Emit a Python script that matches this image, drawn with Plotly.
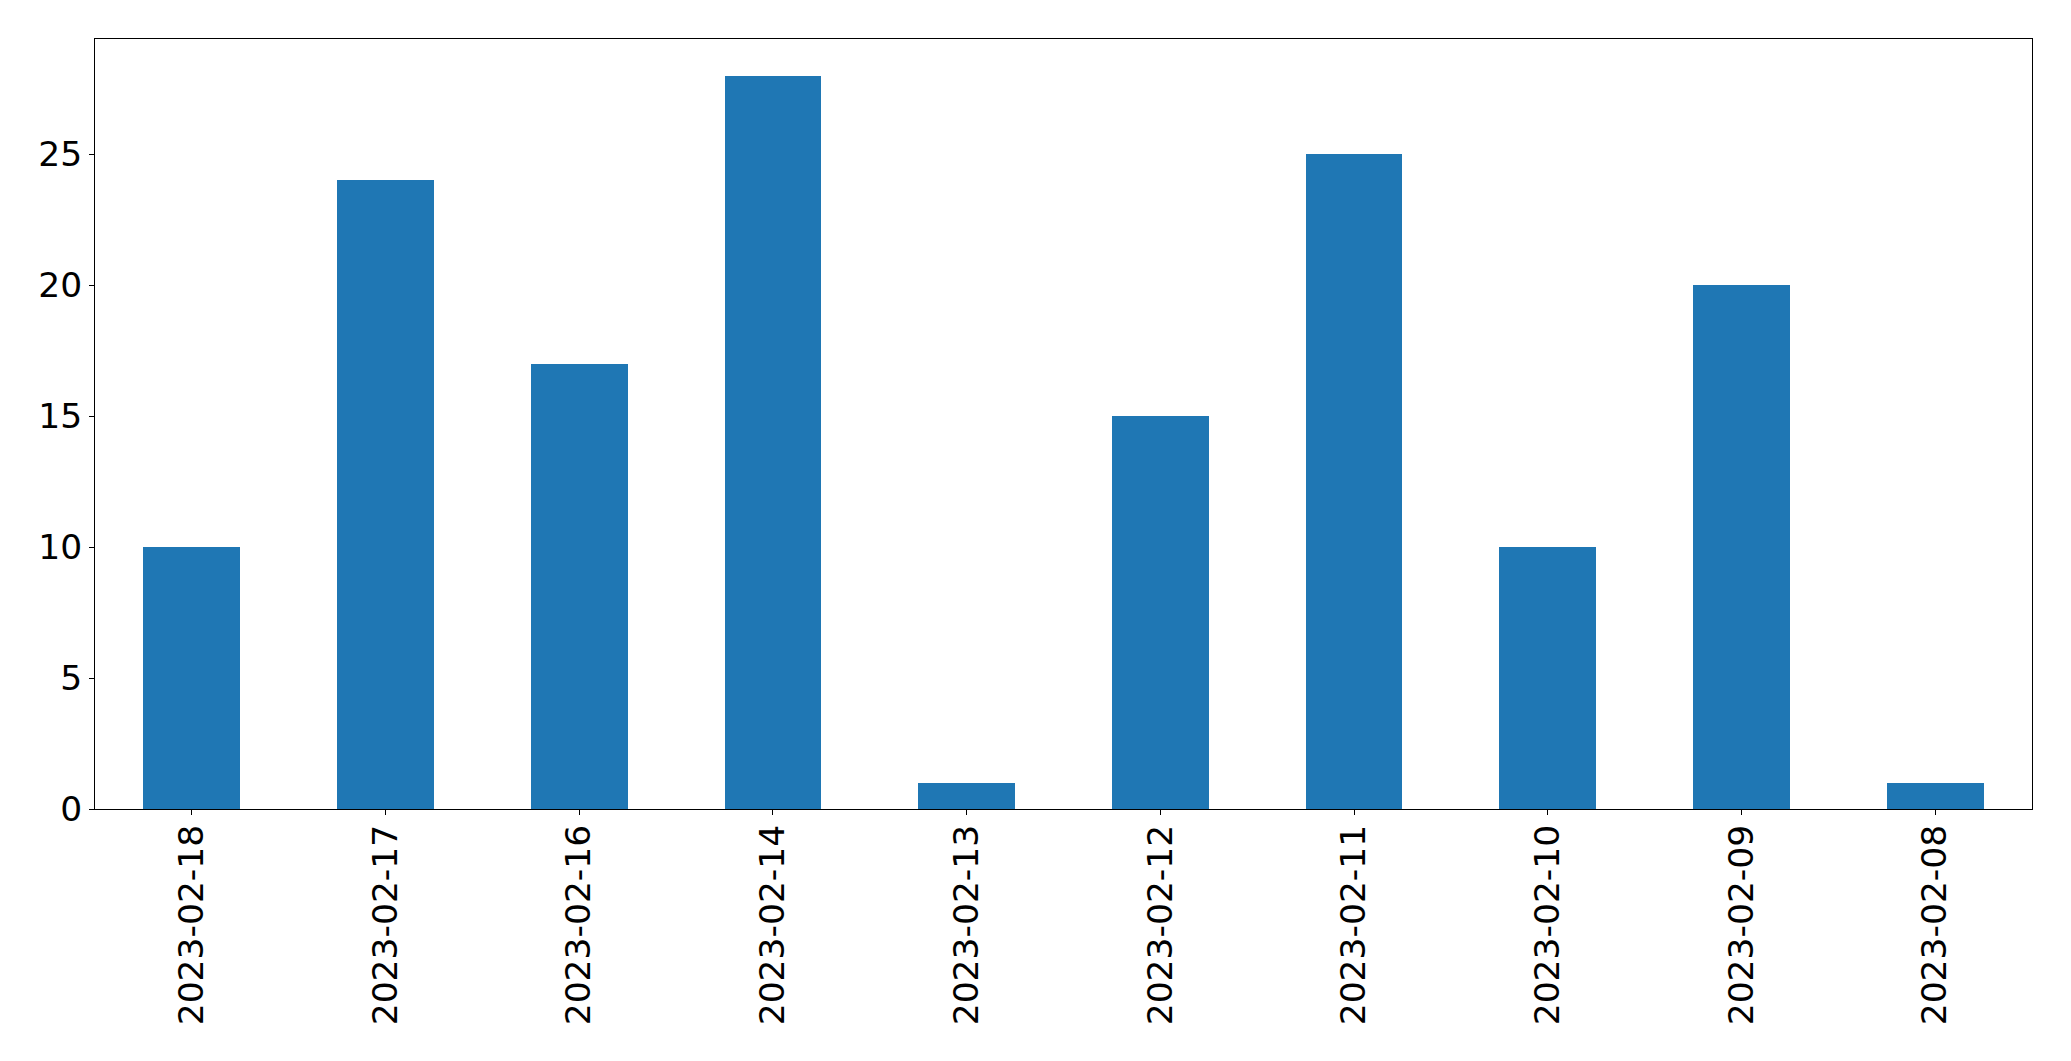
import plotly.graph_objects as go

dates = ["2023-02-18", "2023-02-17", "2023-02-16", "2023-02-14", "2023-02-13",
         "2023-02-12", "2023-02-11", "2023-02-10", "2023-02-09", "2023-02-08"]
counts = [10, 24, 17, 28, 1, 15, 25, 10, 20, 1]
y_ticks = [0, 5, 10, 15, 20, 25]

fig = go.Figure(go.Bar(x=dates, y=counts, marker=dict(color="#1f77b4", line=dict(width=0)), width=0.5))

axis_common = dict(showline=True, linecolor="black", linewidth=1, mirror=True,
                   ticks="outside", ticklen=5, tickwidth=1, tickcolor="black",
                   showgrid=False, zeroline=False)

# page body has an 8px default margin; compensate so the plot area lands where the reference has it
fig.update_layout(
    width=2063, height=1053,
    margin=dict(l=87, r=39, t=31, b=252),
    plot_bgcolor="white", paper_bgcolor="white",
    font=dict(family="DejaVu Sans", size=34.5, color="black"),
    showlegend=False,
    bargap=0,
)
fig.update_xaxes(type="category", range=[-0.5, 9.5], tickangle=-90, ticklabelstandoff=-4, **axis_common)
fig.update_yaxes(range=[0, 29.4], tickvals=y_ticks, ticklabelstandoff=0, **axis_common)

fig.write_html("out.html")
